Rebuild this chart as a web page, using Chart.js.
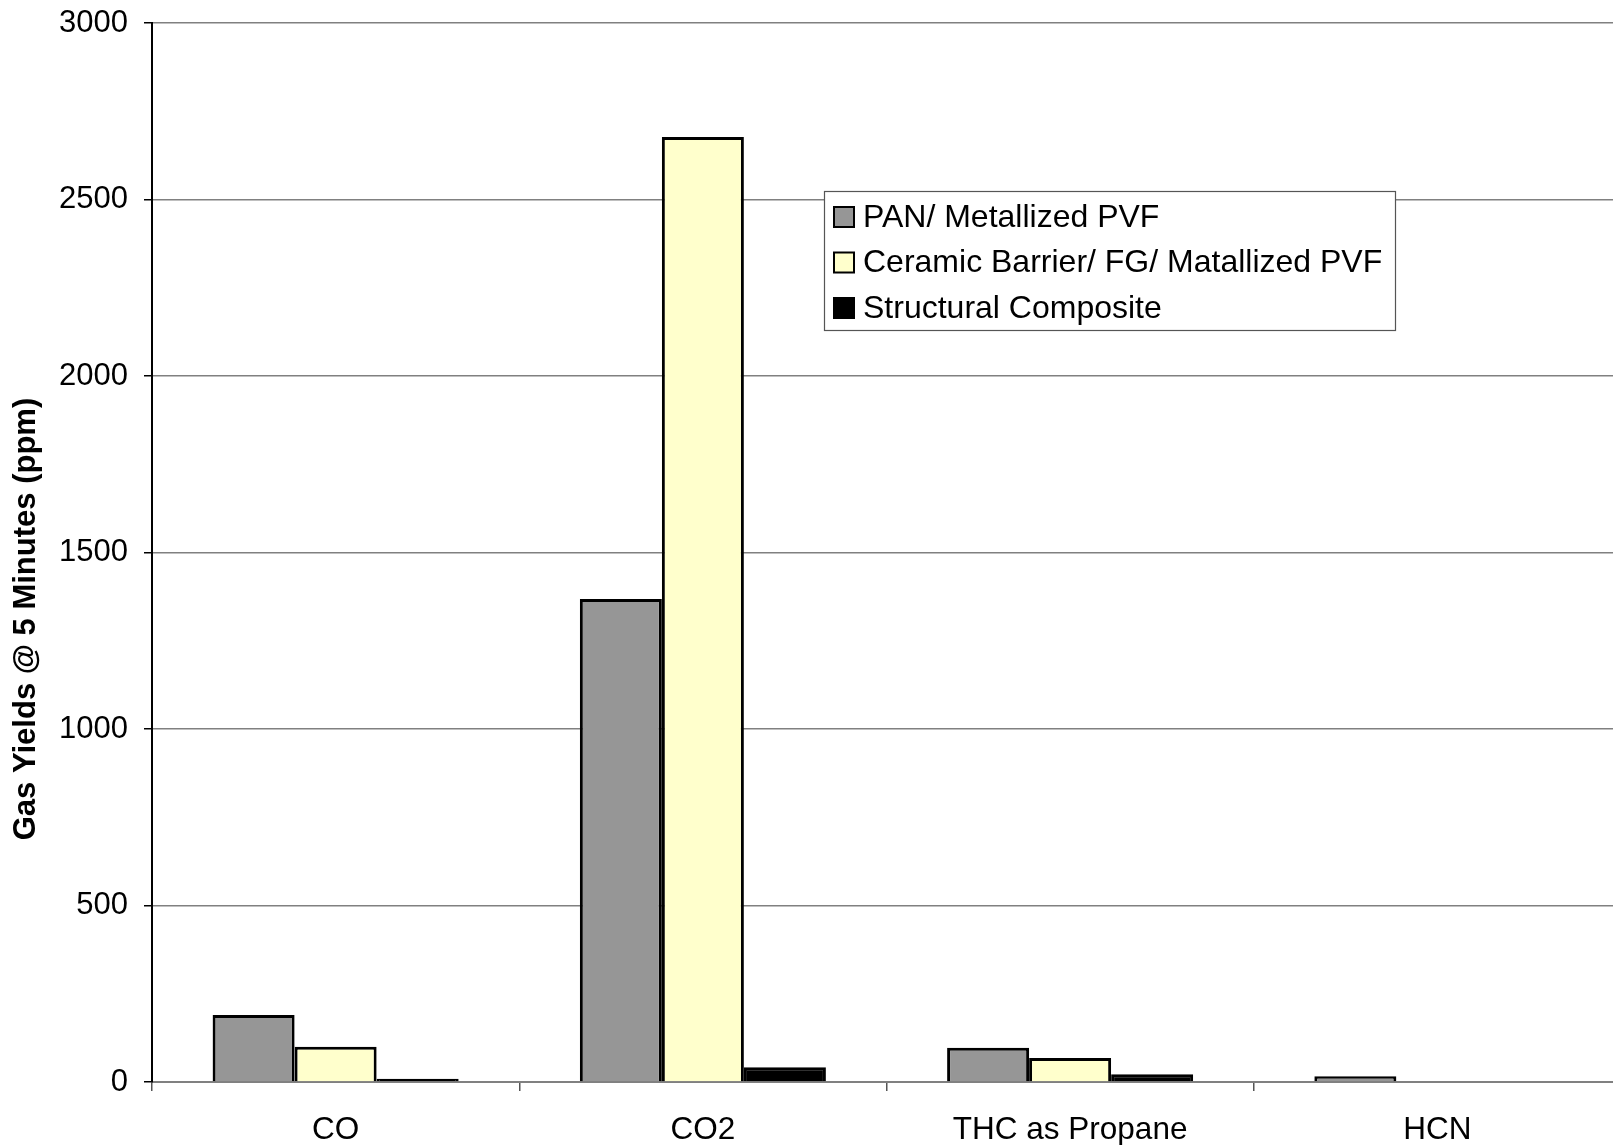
<!DOCTYPE html>
<html>
<head>
<meta charset="utf-8">
<script src="https://cdn.jsdelivr.net/npm/chart.js@4.4.1/dist/chart.umd.min.js"></script>
<style>
  html, body { margin: 0; padding: 0; background: #ffffff; overflow: hidden; }
  #wrap { position: relative; width: 1621px; height: 1145px; }
  canvas { display: block; }
</style>
</head>
<body>
<div id="wrap"><canvas id="gasChart" width="1621" height="1145"></canvas></div>
<script>
// Gas species measured
const categories = ['CO', 'CO2', 'THC as Propane', 'HCN'];

// Series names
const seriesNames = [
  'PAN/ Metallized PVF',
  'Ceramic Barrier/ FG/ Matallized PVF',
  'Structural Composite'
];

// Gas yields at 5 minutes (ppm)
const panMetallizedPvf = [190, 1368, 97, 16];
const ceramicBarrierPvf = [100, 2677, 68, 0];
const structuralComposite = [9, 42, 22, 0];

// Value axis
const yMin = 0;
const yMax = 3000;
const yStep = 500;
const yTitle = 'Gas Yields @ 5 Minutes (ppm)';

const FONT = '"Liberation Sans", Arial, sans-serif';

// Boxed legend drawn inside the plot area
const boxLegend = {
  id: 'boxLegend',
  afterDraw(chart, args, opts) {
    const ctx = chart.ctx;
    ctx.save();
    ctx.fillStyle = '#ffffff';
    ctx.fillRect(opts.x, opts.y, opts.w, opts.h);
    ctx.strokeStyle = '#555555';
    ctx.lineWidth = 1.2;
    ctx.strokeRect(opts.x + 0.5, opts.y + 0.5, opts.w, opts.h);
    ctx.font = opts.fontSize + 'px ' + FONT;
    ctx.textBaseline = 'middle';
    ctx.textAlign = 'left';
    chart.data.datasets.forEach((ds, i) => {
      const cy = opts.y + opts.firstRow + i * opts.rowGap;
      const sx = opts.x + opts.swatchLeft;
      ctx.fillStyle = ds.backgroundColor;
      ctx.fillRect(sx, cy - opts.swatch / 2, opts.swatch, opts.swatch);
      ctx.strokeStyle = '#000000';
      ctx.lineWidth = 2;
      ctx.strokeRect(sx, cy - opts.swatch / 2, opts.swatch, opts.swatch);
      ctx.fillStyle = '#000000';
      ctx.fillText(ds.label, opts.x + opts.textLeft, cy + 1);
    });
    ctx.restore();
  }
};

// Rotated value-axis title
const axisTitle = {
  id: 'axisTitle',
  afterDraw(chart, args, opts) {
    const ctx = chart.ctx;
    ctx.save();
    ctx.translate(opts.x, opts.y);
    ctx.rotate(-Math.PI / 2);
    ctx.font = 'bold ' + opts.fontSize + 'px ' + FONT;
    ctx.fillStyle = '#000000';
    ctx.textAlign = 'center';
    ctx.textBaseline = 'middle';
    ctx.fillText(opts.text, 0, 0);
    ctx.restore();
  }
};

const seriesValues = [panMetallizedPvf, ceramicBarrierPvf, structuralComposite];
const seriesColors = ['#969696', '#FFFFCC', '#000000'];

new Chart(document.getElementById('gasChart'), {
  type: 'bar',
  data: {
    labels: categories,
    datasets: seriesNames.map((name, i) => ({
      label: name,
      data: seriesValues[i],
      backgroundColor: seriesColors[i],
      borderColor: '#000000',
      borderWidth: 3,
      borderSkipped: 'start',
      categoryPercentage: 0.67,
      barPercentage: 1.0
    }))
  },
  options: {
    responsive: false,
    animation: false,
    devicePixelRatio: 1,
    layout: { padding: { top: 23, left: 0, right: 0, bottom: 0 } },
    plugins: {
      legend: { display: false },
      tooltip: { enabled: false },
      boxLegend: {
        x: 824, y: 191, w: 571, h: 139,
        firstRow: 26, rowGap: 45.5,
        swatch: 20, swatchLeft: 10, textLeft: 39, fontSize: 32
      },
      axisTitle: { x: 26, y: 619, text: yTitle, fontSize: 31 }
    },
    scales: {
      x: {
        grid: {
          offset: true,
          drawOnChartArea: false,
          drawTicks: true,
          tickLength: 9,
          tickColor: '#555555',
          lineWidth: 1.5
        },
        border: { display: true, color: '#808080', width: 2 },
        ticks: {
          font: { family: FONT, size: 31.5 },
          color: '#000000',
          padding: 20,
          maxRotation: 0,
          autoSkip: false
        },
        afterFit(scale) { scale.height = 63; }
      },
      y: {
        min: yMin,
        max: yMax,
        grid: {
          color: '#808080',
          lineWidth: 1.5,
          tickLength: 8,
          tickColor: '#000000'
        },
        border: { display: true, color: '#000000', width: 2 },
        ticks: {
          stepSize: yStep,
          font: { family: FONT, size: 31 },
          color: '#000000',
          padding: 16,
          callback: (v) => String(v)
        },
        afterFit(scale) {
          scale.width = 152;
          scale.paddingTop = 0;
          scale.paddingBottom = 0;
        }
      }
    }
  },
  plugins: [boxLegend, axisTitle]
});
</script>
</body>
</html>
